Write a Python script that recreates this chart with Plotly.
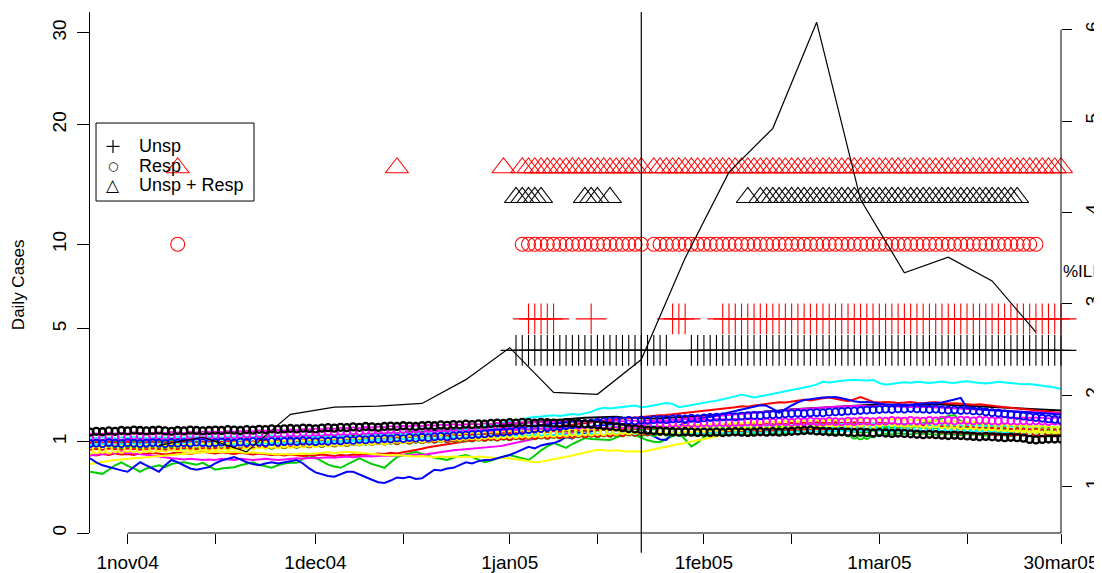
import numpy as np
import pandas as pd
import plotly.graph_objects as go

START = "2004-10-26"
END = "2005-03-30"
dates = pd.date_range(START, END, freq="D")

# ---------------- daily series (Daily Cases, left axis) ----------------
black_line = [
1.02,1.04,1.03,1.05,1.04,1.03,1.05,1.04,1.06,1.05,
1.04,1.06,1.05,1.07,1.06,1.05,1.07,1.06,1.08,1.07,
1.06,1.08,1.07,1.09,1.08,1.07,1.09,1.08,1.10,1.09,
1.10,1.09,1.11,1.10,1.12,1.11,1.13,1.12,1.14,1.13,
1.15,1.14,1.16,1.15,1.17,1.18,1.17,1.19,1.20,1.19,
1.21,1.22,1.21,1.23,1.24,1.25,1.26,1.27,1.28,1.29,
1.30,1.32,1.33,1.35,1.36,1.38,1.40,1.42,1.43,1.45,
1.47,1.48,1.50,1.51,1.53,1.54,1.56,1.57,1.58,1.59,
1.60,1.61,1.62,1.61,1.62,1.60,1.59,1.58,1.57,1.56,
1.57,1.58,1.59,1.60,1.59,1.61,1.62,1.63,1.64,1.65,
1.66,1.67,1.68,1.70,1.71,1.73,1.74,1.76,1.77,1.79,
1.80,1.82,1.83,1.84,1.86,1.87,1.88,1.90,1.91,1.92,
1.93,1.94,1.95,1.96,1.95,1.97,1.96,1.98,1.97,1.96,
1.98,1.97,1.96,1.98,1.97,1.99,1.98,1.97,1.96,1.95,
1.96,1.94,1.93,1.92,1.91,1.90,1.89,1.88,1.87,1.86,
1.85,1.84,1.83,1.82,1.81,1.80]
red_line = [
0.74,0.72,0.75,0.73,0.76,0.74,0.75,0.73,0.76,0.75,
0.77,0.75,0.74,0.76,0.78,0.76,0.75,0.77,0.79,0.77,
0.76,0.78,0.77,0.75,0.77,0.76,0.74,0.76,0.75,0.73,
0.74,0.72,0.74,0.73,0.71,0.73,0.72,0.74,0.73,0.71,
0.73,0.72,0.74,0.73,0.75,0.74,0.76,0.75,0.77,0.76,
0.78,0.80,0.83,0.85,0.88,0.90,0.92,0.94,0.96,0.98,
1.00,1.03,1.05,1.08,1.10,1.13,1.15,1.18,1.20,1.23,
1.25,1.28,1.30,1.33,1.35,1.38,1.40,1.42,1.44,1.46,
1.48,1.50,1.52,1.54,1.55,1.57,1.58,1.60,1.61,1.63,
1.64,1.66,1.67,1.69,1.70,1.72,1.74,1.76,1.78,1.80,
1.82,1.85,1.88,1.90,1.93,1.91,1.95,1.98,2.01,2.03,
2.05,2.04,2.07,2.10,2.13,2.11,2.15,2.18,2.20,2.17,
2.12,2.08,2.15,2.22,2.14,2.06,2.04,2.06,2.05,2.03,
2.04,2.06,2.03,2.02,2.04,2.05,2.03,2.01,2.02,2.00,
1.98,1.97,1.99,1.96,1.94,1.92,1.90,1.88,1.86,1.85,
1.83,1.81,1.79,1.77,1.75,1.73]
green_line = [
0.45,0.43,0.42,0.48,0.55,0.60,0.54,0.50,0.45,0.50,
0.53,0.55,0.52,0.57,0.59,0.60,0.58,0.56,0.59,0.53,
0.48,0.50,0.51,0.52,0.55,0.58,0.60,0.56,0.53,0.51,
0.55,0.58,0.59,0.59,0.66,0.73,0.68,0.62,0.56,0.53,
0.51,0.56,0.62,0.67,0.62,0.57,0.54,0.51,0.60,0.69,
0.73,0.76,0.79,0.75,0.71,0.68,0.66,0.64,0.68,0.71,
0.73,0.69,0.65,0.60,0.63,0.67,0.70,0.73,0.70,0.67,
0.64,0.72,0.82,0.90,0.97,0.92,0.87,0.95,1.02,1.08,
1.06,1.05,1.04,1.04,1.09,1.14,1.20,1.15,1.08,1.03,
1.00,0.99,1.06,1.13,1.20,1.05,0.90,0.98,1.10,1.18,
1.22,1.25,1.27,1.29,1.31,1.30,1.32,1.34,1.33,1.35,
1.36,1.38,1.37,1.39,1.41,1.40,1.42,1.41,1.43,1.44,
1.42,1.44,1.43,1.45,1.44,1.43,1.41,1.42,1.40,1.41,
1.39,1.40,1.42,1.44,1.47,1.52,1.58,1.64,1.67,1.50,
1.42,1.40,1.41,1.39,1.38,1.40,1.39,1.37,1.38,1.36,
1.37,1.35,1.36,1.34,1.35,1.33]
blue_line = [
0.67,0.60,0.55,0.52,0.50,0.47,0.45,0.52,0.60,0.55,
0.50,0.45,0.55,0.64,0.60,0.55,0.50,0.48,0.50,0.52,
0.58,0.63,0.66,0.69,0.65,0.60,0.57,0.55,0.58,0.60,
0.58,0.60,0.62,0.64,0.58,0.50,0.44,0.41,0.39,0.38,
0.42,0.45,0.45,0.41,0.37,0.34,0.31,0.30,0.33,0.37,
0.36,0.38,0.35,0.36,0.42,0.48,0.47,0.50,0.51,0.56,
0.60,0.58,0.62,0.64,0.64,0.67,0.70,0.73,0.78,0.84,
0.89,0.86,0.92,0.95,0.97,1.02,1.11,1.07,1.20,1.18,
1.24,1.27,1.30,1.28,1.32,1.35,1.33,1.36,1.31,1.20,
1.12,1.05,1.04,1.20,1.38,1.45,1.50,1.55,1.59,1.62,
1.66,1.70,1.74,1.78,1.83,1.88,1.92,1.96,1.94,1.85,
1.73,1.85,1.95,2.05,2.12,2.15,2.18,2.20,2.21,2.22,
2.18,2.12,2.08,2.05,2.06,2.04,2.00,1.98,1.97,1.99,
1.96,1.97,1.99,2.01,2.03,2.02,2.04,2.08,2.14,2.19,
1.87,1.85,1.83,1.82,1.81,1.80,1.79,1.78,1.77,1.75,
1.74,1.73,1.72,1.71,1.70,1.68]
cyan_line = [
0.88,0.90,0.89,0.91,0.90,0.92,0.91,0.90,0.92,0.93,
0.92,0.91,0.93,0.92,0.94,0.93,0.92,0.94,0.93,0.95,
0.94,0.93,0.95,0.94,0.96,0.95,0.94,0.96,0.97,0.96,
0.98,0.97,0.99,0.98,1.00,0.99,1.01,1.00,1.02,1.03,
1.02,1.04,1.05,1.04,1.06,1.07,1.08,1.07,1.09,1.10,
1.12,1.11,1.13,1.15,1.16,1.18,1.20,1.22,1.24,1.26,
1.28,1.31,1.34,1.37,1.40,1.44,1.47,1.50,1.54,1.56,
1.59,1.62,1.63,1.65,1.66,1.64,1.67,1.70,1.68,1.72,
1.76,1.84,1.88,1.86,1.89,1.91,1.93,1.95,1.90,1.92,
1.96,1.99,2.03,2.00,1.90,1.93,1.97,2.01,2.04,2.07,
2.10,2.14,2.18,2.24,2.30,2.26,2.20,2.24,2.28,2.32,
2.36,2.40,2.45,2.50,2.53,2.58,2.65,2.74,2.72,2.76,
2.78,2.80,2.82,2.80,2.79,2.81,2.70,2.64,2.66,2.70,
2.73,2.71,2.74,2.72,2.70,2.73,2.75,2.72,2.70,2.74,
2.76,2.73,2.70,2.68,2.71,2.74,2.72,2.69,2.67,2.65,
2.66,2.63,2.60,2.58,2.54,2.49]
magenta_line = [
0.72,0.74,0.75,0.76,0.77,0.78,0.77,0.76,0.75,0.74,
0.72,0.70,0.68,0.67,0.66,0.65,0.66,0.65,0.64,0.65,
0.64,0.66,0.65,0.64,0.66,0.65,0.64,0.65,0.66,0.65,
0.64,0.65,0.66,0.67,0.66,0.68,0.67,0.68,0.69,0.68,
0.69,0.70,0.69,0.70,0.71,0.70,0.71,0.72,0.71,0.72,
0.73,0.72,0.74,0.73,0.75,0.76,0.78,0.80,0.82,0.83,
0.84,0.86,0.87,0.88,0.89,0.90,0.92,0.95,0.98,1.01,
1.04,1.07,1.10,1.13,1.15,1.17,1.19,1.21,1.23,1.25,
1.27,1.29,1.31,1.33,1.35,1.37,1.39,1.41,1.43,1.45,
1.47,1.49,1.51,1.53,1.55,1.57,1.58,1.60,1.61,1.63,
1.64,1.66,1.67,1.69,1.70,1.72,1.73,1.75,1.76,1.78,
1.79,1.81,1.82,1.84,1.85,1.86,1.88,1.89,1.90,1.91,
1.92,1.93,1.92,1.94,1.93,1.92,1.94,1.93,1.92,1.91,
1.92,1.91,1.90,1.91,1.90,1.89,1.88,1.89,1.88,1.87,
1.86,1.85,1.84,1.83,1.82,1.81,1.80,1.79,1.78,1.77,
1.76,1.75,1.74,1.73,1.72,1.71]
yellow_line = [
0.57,0.59,0.61,0.62,0.64,0.65,0.66,0.67,0.68,0.69,
0.70,0.71,0.72,0.73,0.74,0.75,0.76,0.77,0.78,0.78,
0.79,0.79,0.78,0.79,0.78,0.77,0.78,0.77,0.76,0.75,
0.74,0.75,0.74,0.75,0.76,0.75,0.76,0.77,0.78,0.77,
0.78,0.79,0.78,0.77,0.76,0.75,0.74,0.73,0.72,0.73,
0.72,0.71,0.70,0.71,0.70,0.69,0.70,0.69,0.70,0.69,
0.70,0.69,0.70,0.69,0.68,0.67,0.68,0.67,0.66,0.64,
0.62,0.60,0.61,0.63,0.65,0.67,0.69,0.72,0.75,0.78,
0.81,0.83,0.82,0.81,0.82,0.80,0.79,0.80,0.79,0.81,
0.84,0.87,0.89,0.92,0.95,0.97,1.00,1.03,1.07,1.10,
1.13,1.15,1.17,1.19,1.20,1.22,1.23,1.24,1.25,1.26,
1.27,1.28,1.27,1.29,1.28,1.30,1.29,1.31,1.30,1.32,
1.31,1.33,1.32,1.34,1.33,1.32,1.34,1.33,1.35,1.34,
1.33,1.35,1.34,1.33,1.32,1.34,1.33,1.32,1.31,1.30,
1.31,1.29,1.28,1.29,1.27,1.26,1.27,1.25,1.24,1.25,
1.23,1.24,1.22,1.23,1.22,1.21]

black_circ = [
1.22,1.24,1.23,1.25,1.24,1.26,1.25,1.27,1.26,1.25,
1.26,1.27,1.25,1.24,1.26,1.25,1.27,1.26,1.25,1.26,
1.27,1.26,1.28,1.27,1.26,1.28,1.27,1.29,1.28,1.30,
1.29,1.30,1.31,1.30,1.32,1.31,1.30,1.32,1.33,1.32,
1.34,1.33,1.35,1.34,1.36,1.35,1.34,1.36,1.37,1.36,
1.38,1.37,1.36,1.38,1.39,1.38,1.40,1.39,1.41,1.40,
1.42,1.41,1.43,1.42,1.44,1.45,1.44,1.46,1.45,1.47,
1.46,1.45,1.47,1.46,1.45,1.44,1.46,1.45,1.44,1.43,
1.42,1.40,1.38,1.37,1.35,1.33,1.31,1.30,1.28,1.27,
1.26,1.25,1.24,1.23,1.22,1.23,1.22,1.21,1.22,1.21,
1.22,1.21,1.22,1.23,1.22,1.21,1.22,1.23,1.22,1.23,
1.22,1.23,1.24,1.25,1.26,1.27,1.25,1.24,1.23,1.22,
1.23,1.22,1.21,1.22,1.21,1.20,1.21,1.20,1.19,1.20,
1.19,1.18,1.17,1.16,1.17,1.16,1.15,1.14,1.15,1.14,
1.13,1.12,1.11,1.12,1.11,1.10,1.09,1.10,1.09,1.08,
1.05,1.04,1.05,1.06,1.06,1.06]
red_circ = [
0.90,0.91,0.90,0.92,0.91,0.90,0.92,0.91,0.90,0.91,
0.92,0.91,0.90,0.92,0.91,0.93,0.92,0.91,0.93,0.92,
0.93,0.92,0.94,0.93,0.92,0.94,0.93,0.95,0.94,0.93,
0.95,0.94,0.96,0.95,0.97,0.96,0.98,0.97,0.99,0.98,
1.00,0.99,1.01,1.00,1.02,1.01,1.03,1.02,1.04,1.03,
1.05,1.04,1.06,1.05,1.07,1.06,1.08,1.07,1.09,1.08,
1.10,1.09,1.11,1.10,1.12,1.11,1.13,1.12,1.14,1.13,
1.15,1.14,1.16,1.15,1.17,1.16,1.18,1.17,1.19,1.18,
1.20,1.19,1.21,1.20,1.22,1.21,1.23,1.22,1.24,1.23,
1.25,1.24,1.26,1.25,1.27,1.26,1.28,1.27,1.29,1.28,
1.30,1.29,1.31,1.30,1.32,1.31,1.33,1.32,1.34,1.33,
1.35,1.34,1.36,1.35,1.37,1.36,1.38,1.37,1.36,1.38,
1.37,1.36,1.38,1.37,1.36,1.35,1.37,1.36,1.35,1.34,
1.33,1.34,1.32,1.31,1.32,1.30,1.29,1.30,1.28,1.27,
1.28,1.26,1.25,1.26,1.24,1.23,1.24,1.22,1.23,1.22,
1.21,1.22,1.20,1.21,1.20,1.21]
green_circ = [
0.95,0.94,0.96,0.95,0.94,0.93,0.95,0.94,0.93,0.95,
0.94,0.93,0.92,0.94,0.93,0.92,0.94,0.93,0.92,0.93,
0.94,0.93,0.92,0.94,0.93,0.92,0.93,0.94,0.93,0.92,
0.94,0.93,0.95,0.94,0.96,0.95,0.97,0.96,0.98,0.97,
0.99,0.98,1.00,0.99,1.01,1.00,1.02,1.01,1.03,1.02,
1.04,1.03,1.05,1.04,1.06,1.05,1.07,1.06,1.08,1.07,
1.09,1.08,1.10,1.09,1.11,1.10,1.12,1.11,1.13,1.12,
1.14,1.13,1.15,1.14,1.16,1.15,1.17,1.16,1.18,1.17,
1.19,1.18,1.20,1.19,1.21,1.20,1.22,1.21,1.20,1.22,
1.21,1.23,1.22,1.21,1.23,1.22,1.24,1.23,1.22,1.24,
1.23,1.25,1.24,1.23,1.25,1.24,1.26,1.25,1.24,1.26,
1.25,1.27,1.26,1.25,1.27,1.26,1.25,1.27,1.26,1.25,
1.24,1.20,1.15,1.13,1.14,1.18,1.24,1.26,1.25,1.27,
1.26,1.25,1.27,1.26,1.25,1.24,1.26,1.25,1.24,1.23,
1.25,1.24,1.23,1.22,1.24,1.23,1.22,1.21,1.23,1.22,
1.21,1.22,1.21,1.20,1.21,1.22]
blue_circ = [
0.96,0.97,0.96,0.98,0.97,0.96,0.98,0.97,0.96,0.97,
0.98,0.97,0.96,0.98,0.97,0.98,0.97,0.99,0.98,0.97,
0.98,0.99,0.98,0.97,0.99,0.98,1.00,0.99,0.98,1.00,
0.99,1.00,1.01,1.00,1.02,1.01,1.00,1.02,1.01,1.03,
1.02,1.04,1.03,1.05,1.04,1.06,1.05,1.07,1.06,1.08,
1.07,1.09,1.08,1.10,1.09,1.11,1.12,1.11,1.13,1.14,
1.15,1.16,1.17,1.18,1.20,1.21,1.22,1.23,1.25,1.26,
1.28,1.30,1.31,1.33,1.35,1.36,1.38,1.40,1.42,1.43,
1.45,1.47,1.48,1.50,1.51,1.50,1.52,1.51,1.53,1.52,
1.54,1.55,1.54,1.56,1.57,1.56,1.58,1.57,1.59,1.60,
1.61,1.62,1.63,1.62,1.64,1.65,1.66,1.65,1.67,1.68,
1.69,1.70,1.71,1.72,1.71,1.73,1.74,1.73,1.75,1.76,
1.77,1.78,1.79,1.80,1.81,1.82,1.83,1.84,1.83,1.85,
1.84,1.86,1.85,1.84,1.83,1.84,1.82,1.81,1.82,1.80,
1.81,1.79,1.78,1.76,1.74,1.72,1.70,1.68,1.66,1.64,
1.62,1.60,1.58,1.56,1.55,1.53]
cyan_circ = [
1.00,1.01,1.02,1.01,1.00,1.02,1.01,1.03,1.02,1.01,
1.02,1.03,1.02,1.01,1.03,1.02,1.04,1.03,1.02,1.04,
1.03,1.02,1.04,1.03,1.05,1.04,1.03,1.05,1.04,1.06,
1.05,1.04,1.06,1.05,1.07,1.06,1.05,1.07,1.06,1.08,
1.07,1.08,1.09,1.08,1.10,1.09,1.11,1.10,1.12,1.11,
1.13,1.12,1.14,1.13,1.15,1.14,1.16,1.15,1.17,1.16,
1.18,1.17,1.19,1.18,1.20,1.19,1.21,1.20,1.22,1.21,
1.22,1.23,1.22,1.24,1.23,1.25,1.24,1.23,1.25,1.24,
1.26,1.25,1.24,1.26,1.25,1.27,1.26,1.25,1.27,1.26,
1.28,1.27,1.26,1.28,1.27,1.29,1.28,1.27,1.29,1.28,
1.30,1.29,1.28,1.30,1.29,1.31,1.30,1.29,1.31,1.30,
1.32,1.31,1.30,1.32,1.31,1.33,1.32,1.31,1.33,1.32,
1.34,1.33,1.32,1.34,1.33,1.35,1.34,1.33,1.32,1.34,
1.33,1.32,1.34,1.33,1.32,1.31,1.33,1.32,1.31,1.30,
1.32,1.31,1.30,1.29,1.31,1.30,1.29,1.28,1.30,1.29,
1.28,1.27,1.29,1.28,1.27,1.28]
magenta_circ = [
1.10,1.11,1.10,1.12,1.11,1.12,1.11,1.13,1.12,1.11,
1.12,1.13,1.12,1.14,1.13,1.12,1.14,1.13,1.15,1.14,
1.15,1.14,1.16,1.15,1.16,1.17,1.16,1.18,1.17,1.18,
1.19,1.18,1.20,1.19,1.21,1.20,1.22,1.21,1.23,1.22,
1.24,1.23,1.25,1.24,1.26,1.25,1.27,1.26,1.28,1.27,
1.29,1.28,1.30,1.29,1.31,1.30,1.32,1.31,1.33,1.32,
1.33,1.34,1.33,1.35,1.34,1.36,1.35,1.37,1.36,1.38,
1.37,1.38,1.39,1.38,1.40,1.39,1.41,1.40,1.39,1.41,
1.40,1.42,1.41,1.40,1.42,1.41,1.43,1.42,1.41,1.43,
1.42,1.44,1.43,1.45,1.44,1.46,1.45,1.44,1.46,1.45,
1.47,1.46,1.45,1.47,1.46,1.48,1.47,1.46,1.48,1.47,
1.49,1.48,1.47,1.49,1.48,1.50,1.49,1.48,1.50,1.49,
1.48,1.50,1.49,1.51,1.50,1.49,1.51,1.50,1.52,1.51,
1.50,1.52,1.51,1.50,1.52,1.51,1.53,1.52,1.51,1.53,
1.52,1.51,1.53,1.52,1.51,1.50,1.52,1.51,1.50,1.51,
1.50,1.51,1.50,1.49,1.50,1.50]
yellow_circ = [
0.82,0.83,0.84,0.83,0.85,0.84,0.86,0.85,0.84,0.86,
0.85,0.87,0.86,0.88,0.87,0.86,0.88,0.87,0.89,0.88,
0.89,0.90,0.89,0.91,0.90,0.92,0.91,0.93,0.92,0.94,
0.93,0.95,0.94,0.96,0.95,0.97,0.96,0.98,0.97,0.99,
0.98,1.00,1.01,1.00,1.02,1.01,1.03,1.02,1.04,1.05,
1.04,1.06,1.07,1.06,1.08,1.09,1.08,1.10,1.11,1.10,
1.12,1.13,1.12,1.14,1.15,1.14,1.16,1.17,1.16,1.18,
1.17,1.19,1.18,1.20,1.19,1.21,1.20,1.22,1.21,1.23,
1.22,1.24,1.23,1.25,1.24,1.26,1.25,1.27,1.26,1.28,
1.27,1.29,1.28,1.30,1.29,1.31,1.30,1.32,1.31,1.33,
1.34,1.33,1.35,1.36,1.35,1.37,1.38,1.37,1.39,1.40,
1.39,1.41,1.42,1.41,1.43,1.42,1.44,1.43,1.45,1.44,
1.46,1.45,1.47,1.46,1.48,1.47,1.46,1.48,1.47,1.46,
1.45,1.44,1.45,1.43,1.42,1.43,1.41,1.40,1.41,1.39,
1.38,1.39,1.37,1.36,1.35,1.34,1.33,1.32,1.31,1.30,
1.29,1.28,1.29,1.28,1.27,1.27]

# ---------------- weekly %ILI (right axis) ----------------
ili_dates = ["2004-11-06","2004-11-13","2004-11-20","2004-11-27","2004-12-04",
             "2004-12-11","2004-12-18","2004-12-25","2005-01-01","2005-01-08",
             "2005-01-15","2005-01-22","2005-01-29","2005-02-05","2005-02-12",
             "2005-02-19","2005-02-26","2005-03-05","2005-03-12","2005-03-19",
             "2005-03-26"]
ili_values = [1.45,1.54,1.38,1.79,1.87,1.88,1.91,2.17,2.52,2.03,2.01,2.39,
              3.50,4.44,4.92,6.08,4.14,3.34,3.51,3.25,2.69]

# ---------------- signal days (runs of consecutive days) ----------------
tri_red_runs = [("2004-11-09","2004-11-09"),("2004-12-14","2004-12-14"),
                ("2004-12-31","2004-12-31"),("2005-01-03","2005-01-22"),
                ("2005-01-24","2005-03-30")]
tri_black_runs = [("2005-01-02","2005-01-06"),("2005-01-13","2005-01-15"),
                  ("2005-01-17","2005-01-17"),("2005-02-08","2005-02-08"),
                  ("2005-02-10","2005-03-23")]
circ_red_runs = [("2004-11-09","2004-11-09"),("2005-01-03","2005-01-22"),
                 ("2005-01-24","2005-03-26")]
plus_red_runs = [("2005-01-04","2005-01-08"),("2005-01-14","2005-01-14"),
                 ("2005-01-27","2005-01-29"),("2005-02-04","2005-03-30")]
plus_black_runs = [("2005-01-02","2005-01-26"),("2005-01-30","2005-03-30")]

ROW_TRI_RED, ROW_TRI_BLACK, ROW_CIRC_RED, ROW_PLUS_RED, ROW_PLUS_BLACK = 16, 13.5, 10, 5.5, 4

left_ticks = [0, 1, 5, 10, 20, 30]
right_ticks = [1, 2, 3, 4, 5, 6]
x_tickdates = ["2004-11-01","2004-11-15","2004-12-01","2004-12-15","2005-01-01",
               "2005-01-15","2005-02-01","2005-02-15","2005-03-01","2005-03-15",
               "2005-03-30"]
x_ticklabels = ["1nov04","","1dec04","","1jan05","","1feb05","","1mar05","","30mar05"]
CUT_DATE = "2005-01-22"
legend_labels = ["Unsp", "Resp", "Unsp + Resp"]
legend_glyphs = [None, "○", "△"]

Y_TOP = 32.56          # top of left axis (daily cases)
Y2_RANGE = [0.492, 6.193]

FONT = "Liberation Sans, Arial, Helvetica, sans-serif"


def expand(runs):
    out = []
    for a, b in runs:
        out.extend(pd.date_range(a, b, freq="D"))
    return out


series_lines = [("black", black_line), ("#00CD00", green_line), ("red", red_line),
                ("magenta", magenta_line), ("yellow", yellow_line),
                ("blue", blue_line), ("cyan", cyan_line)]
series_circ = [("#00CD00", green_circ), ("red", red_circ), ("cyan", cyan_circ),
               ("yellow", yellow_circ), ("magenta", magenta_circ),
               ("blue", blue_circ), ("black", black_circ)]
for s in [v for _, v in series_lines + series_circ]:
    if len(s) != len(dates):
        raise ValueError(f"length {len(s)} != {len(dates)}")

fig = go.Figure()

for col, vals in series_lines:
    fig.add_trace(go.Scatter(x=dates, y=np.sqrt(vals), mode="lines",
                             line=dict(color=col, width=2), showlegend=False,
                             hoverinfo="skip"))
for col, vals in series_circ:
    w = 2.3 if col == "black" else 1.8
    fig.add_trace(go.Scatter(x=dates, y=np.sqrt(vals), mode="markers",
                             marker=dict(symbol="circle-open", size=7, color=col,
                                         line=dict(color=col, width=w)),
                             showlegend=False, hoverinfo="skip"))

fig.add_trace(go.Scatter(x=pd.to_datetime(ili_dates), y=ili_values, mode="lines",
                         line=dict(color="black", width=1.2), yaxis="y2",
                         showlegend=False, hoverinfo="skip"))


def row(runs, level, symbol, size, color):
    d = expand(runs)
    fig.add_trace(go.Scatter(x=d, y=[np.sqrt(level)] * len(d), mode="markers",
                             marker=dict(symbol=symbol, size=size, color=color,
                                         line=dict(color=color, width=1.1)),
                             cliponaxis=False, showlegend=False, hoverinfo="skip"))


row(tri_red_runs, ROW_TRI_RED, "triangle-up-open", 20, "red")
row(tri_black_runs, ROW_TRI_BLACK, "triangle-up-open", 20, "black")
row(circ_red_runs, ROW_CIRC_RED, "circle-open", 14, "red")
row(plus_red_runs, ROW_PLUS_RED, "cross-thin-open", 22, "red")
row(plus_black_runs, ROW_PLUS_BLACK, "cross-thin-open", 22, "black")

# legend (box + symbols + labels), in plot-area fractions
LEG_X0, LEG_X1, LEG_Y0, LEG_Y1 = 0.0062, 0.1689, 0.6372, 0.7869
LEG_SYM_X, LEG_TXT_X = 0.0237, 0.0484
leg_rows_y = [0.742, 0.705, 0.668]
leg_annots = []
leg_shapes = []
for lab, gl, yy, gsz in zip(legend_labels, legend_glyphs, leg_rows_y, [0, 12, 17]):
    if gl is None:
        dx, dy = 6.5 / 971, 6.5 / 521
        leg_shapes += [
            dict(type="line", xref="paper", yref="paper", x0=LEG_SYM_X - dx,
                 x1=LEG_SYM_X + dx, y0=yy, y1=yy, line=dict(color="black", width=1.2)),
            dict(type="line", xref="paper", yref="paper", x0=LEG_SYM_X,
                 x1=LEG_SYM_X, y0=yy - dy, y1=yy + dy, line=dict(color="black", width=1.2)),
        ]
    else:
        leg_annots.append(dict(text=gl, xref="paper", yref="paper", x=LEG_SYM_X, y=yy,
                               showarrow=False, xanchor="center", yanchor="middle",
                               font=dict(size=gsz, family="DejaVu Sans")))
    leg_annots.append(dict(text=lab, xref="paper", yref="paper", x=LEG_TXT_X, y=yy,
                           showarrow=False, xanchor="left", yanchor="middle",
                           font=dict(size=18)))

fig.update_layout(
    width=1094, height=565,
    margin=dict(l=82, r=41, t=4, b=40, autoexpand=False),
    plot_bgcolor="white", paper_bgcolor="white",
    font=dict(family=FONT, size=18, color="black"),
    showlegend=False,
    xaxis=dict(type="date", range=[START, END], tickmode="array",
               tickvals=x_tickdates, ticktext=x_ticklabels, ticks="outside",
               ticklen=10, tickcolor="black", showgrid=False, zeroline=False,
               showline=False, tickfont=dict(size=19), automargin=False,
               ticklabelstandoff=2),
    yaxis=dict(range=[0, np.sqrt(Y_TOP)], tickmode="array",
               tickvals=np.sqrt(left_ticks), ticktext=[str(t) for t in left_ticks],
               ticks="outside", ticklen=12, tickcolor="black", tickangle=-90,
               showline=True, linecolor="black", linewidth=1,
               showgrid=False, zeroline=False, tickfont=dict(size=19),
               automargin=False, ticklabelstandoff=3),
    yaxis2=dict(range=Y2_RANGE, overlaying="y", side="right", tickmode="array",
                tickvals=right_ticks, ticktext=[str(t) for t in right_ticks],
                ticks="outside", ticklen=10, tickcolor="black", tickangle=-90,
                showline=False, showgrid=False, zeroline=False,
                tickfont=dict(size=19), automargin=False, ticklabelstandoff=4),
    shapes=[
        dict(type="line", xref="x", yref="paper", x0=CUT_DATE, x1=CUT_DATE,
             y0=-0.038, y1=1, line=dict(color="black", width=1.2)),
        dict(type="line", xref="x", yref="paper", x0=x_tickdates[0],
             x1=x_tickdates[-1], y0=0, y1=0, line=dict(color="black", width=1)),
        dict(type="line", xref="paper", yref="y2", x0=1, x1=1,
             y0=Y2_RANGE[0], y1=right_ticks[-1], line=dict(color="black", width=1)),
        dict(type="rect", xref="paper", yref="paper", x0=LEG_X0, x1=LEG_X1,
             y0=LEG_Y0, y1=LEG_Y1, line=dict(color="black", width=1)),
    ] + leg_shapes,
    annotations=[
        dict(text="Daily Cases", xref="paper", yref="paper", x=-0.074, y=0.476,
             textangle=-90, showarrow=False, font=dict(size=17),
             xanchor="center", yanchor="middle"),
        dict(text="%ILI", xref="paper", yref="paper", x=1.0196, y=0.501,
             showarrow=False, font=dict(size=17), xanchor="center", yanchor="middle"),
    ] + leg_annots,
)

fig.write_html("out.html")
